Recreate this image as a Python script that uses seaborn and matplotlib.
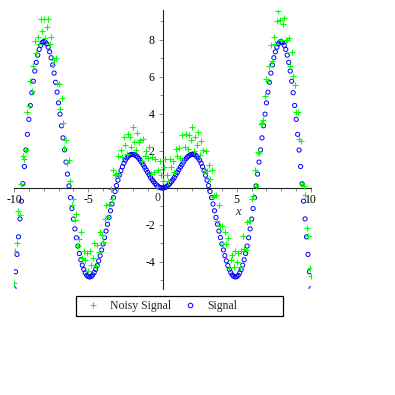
import matplotlib
matplotlib.use("Agg")
import matplotlib.pyplot as plt
from matplotlib.lines import Line2D
from matplotlib.patches import Rectangle
from matplotlib.ticker import FixedLocator, MultipleLocator, NullFormatter
import seaborn as sns
import pandas as pd

# ---------------- data ----------------
x_values = [
    -10.0, -9.9, -9.8, -9.7, -9.6, -9.5, -9.4, -9.3, -9.2, -9.1,
    -9.0, -8.9, -8.8, -8.7, -8.6, -8.5, -8.4, -8.3, -8.2, -8.1,
    -8.0, -7.9, -7.8, -7.7, -7.6, -7.5, -7.4, -7.3, -7.2, -7.1,
    -7.0, -6.9, -6.8, -6.7, -6.6, -6.5, -6.4, -6.3, -6.2, -6.1,
    -6.0, -5.9, -5.8, -5.7, -5.6, -5.5, -5.4, -5.3, -5.2, -5.1,
    -5.0, -4.9, -4.8, -4.7, -4.6, -4.5, -4.4, -4.3, -4.2, -4.1,
    -4.0, -3.9, -3.8, -3.7, -3.6, -3.5, -3.4, -3.3, -3.2, -3.1,
    -3.0, -2.9, -2.8, -2.7, -2.6, -2.5, -2.4, -2.3, -2.2, -2.1,
    -2.0, -1.9, -1.8, -1.7, -1.6, -1.5, -1.4, -1.3, -1.2, -1.1,
    -1.0, -0.9, -0.8, -0.7, -0.6, -0.5, -0.4, -0.3, -0.2, -0.1,
    0.0, 0.1, 0.2, 0.3, 0.4, 0.5, 0.6, 0.7, 0.8, 0.9,
    1.0, 1.1, 1.2, 1.3, 1.4, 1.5, 1.6, 1.7, 1.8, 1.9,
    2.0, 2.1, 2.2, 2.3, 2.4, 2.5, 2.6, 2.7, 2.8, 2.9,
    3.0, 3.1, 3.2, 3.3, 3.4, 3.5, 3.6, 3.7, 3.8, 3.9,
    4.0, 4.1, 4.2, 4.3, 4.4, 4.5, 4.6, 4.7, 4.8, 4.9,
    5.0, 5.1, 5.2, 5.3, 5.4, 5.5, 5.6, 5.7, 5.8, 5.9,
    6.0, 6.1, 6.2, 6.3, 6.4, 6.5, 6.6, 6.7, 6.8, 6.9,
    7.0, 7.1, 7.2, 7.3, 7.4, 7.5, 7.6, 7.7, 7.8, 7.9,
    8.0, 8.1, 8.2, 8.3, 8.4, 8.5, 8.6, 8.7, 8.8, 8.9,
    9.0, 9.1, 9.2, 9.3, 9.4, 9.5, 9.6, 9.7, 9.8, 9.9,
    10.0,
]

signal_values = [
    -5.44, -4.53, -3.59, -2.64, -1.67, -0.71, 0.23, 1.16, 2.05, 2.90,
    3.71, 4.46, 5.15, 5.77, 6.32, 6.79, 7.18, 7.49, 7.71, 7.86,
    7.91, 7.89, 7.79, 7.61, 7.36, 7.04, 6.65, 6.21, 5.71, 5.18,
    4.60, 3.99, 3.36, 2.71, 2.06, 1.40, 0.75, 0.11, -0.52, -1.11,
    -1.68, -2.21, -2.69, -3.14, -3.54, -3.88, -4.17, -4.41, -4.59, -4.72,
    -4.79, -4.81, -4.78, -4.70, -4.57, -4.40, -4.19, -3.94, -3.66, -3.35,
    -3.03, -2.68, -2.33, -1.96, -1.59, -1.23, -0.87, -0.52, -0.19, 0.13,
    0.42, 0.69, 0.94, 1.15, 1.34, 1.50, 1.62, 1.72, 1.78, 1.81,
    1.82, 1.80, 1.75, 1.69, 1.60, 1.50, 1.38, 1.25, 1.12, 0.98,
    0.84, 0.71, 0.57, 0.45, 0.34, 0.24, 0.16, 0.09, 0.04, 0.01,
    0.00, 0.01, 0.04, 0.09, 0.16, 0.24, 0.34, 0.45, 0.57, 0.71,
    0.84, 0.98, 1.12, 1.25, 1.38, 1.50, 1.60, 1.69, 1.75, 1.80,
    1.82, 1.81, 1.78, 1.72, 1.62, 1.50, 1.34, 1.15, 0.94, 0.69,
    0.42, 0.13, -0.19, -0.52, -0.87, -1.23, -1.59, -1.96, -2.33, -2.68,
    -3.03, -3.35, -3.66, -3.94, -4.19, -4.40, -4.57, -4.70, -4.78, -4.81,
    -4.79, -4.72, -4.59, -4.41, -4.17, -3.88, -3.54, -3.14, -2.69, -2.21,
    -1.68, -1.11, -0.52, 0.11, 0.75, 1.40, 2.06, 2.71, 3.36, 3.99,
    4.60, 5.18, 5.71, 6.21, 6.65, 7.04, 7.36, 7.61, 7.79, 7.89,
    7.91, 7.86, 7.71, 7.49, 7.18, 6.79, 6.32, 5.77, 5.15, 4.46,
    3.71, 2.90, 2.05, 1.16, 0.23, -0.71, -1.67, -2.64, -3.59, -4.53,
    -5.44,
]

noisy_values = [
    -5.14, -3.43, -2.99, -1.24, -1.47, 0.19, 1.73, 1.56, 2.05, 4.10,
    4.41, 5.76, 5.25, 6.57, 7.92, 7.29, 8.18, 7.79, 9.11, 8.46,
    9.11, 8.09, 8.69, 9.11, 7.76, 8.14, 6.65, 6.91, 7.01, 5.68,
    5.60, 4.29, 4.86, 3.51, 2.16, 2.60, 1.35, 1.51, 0.38, -0.91,
    -0.58, -1.71, -1.39, -3.14, -2.74, -2.38, -3.77, -3.41, -3.89, -3.52,
    -4.49, -3.41, -4.18, -3.80, -2.97, -4.20, -3.09, -3.44, -2.36, -2.55,
    -2.93, -1.68, -0.93, -1.56, -0.89, -0.03, -0.57, 0.98, 0.71, 0.73,
    1.72, 0.69, 2.04, 1.65, 2.74, 2.30, 1.82, 2.92, 2.78, 2.21,
    3.32, 2.50, 2.05, 2.99, 2.50, 2.60, 1.48, 2.65, 1.72, 1.98,
    1.64, 2.21, 0.77, 1.65, 0.84, 1.54, 0.06, 0.99, 1.44, 0.71,
    0.40, 1.11, 1.54, 0.69, 0.36, 1.54, 1.14, 1.45, 0.87, 2.11,
    1.74, 2.18, 1.62, 2.85, 1.48, 2.20, 2.90, 2.09, 2.85, 2.60,
    3.32, 2.01, 2.78, 2.32, 3.02, 1.80, 2.54, 2.05, 0.94, 1.99,
    0.92, 1.23, 0.51, 0.98, -0.47, -0.43, -0.39, -1.76, -0.93, -2.08,
    -2.03, -3.05, -2.36, -3.04, -2.69, -4.30, -3.87, -3.60, -4.28, -3.41,
    -3.99, -3.52, -4.29, -3.41, -2.57, -3.28, -3.34, -1.84, -1.79, -1.81,
    -0.58, -0.41, 0.98, 0.11, 1.95, 1.90, 3.46, 3.51, 3.66, 4.99,
    5.90, 5.78, 6.61, 7.71, 6.85, 8.14, 7.76, 9.01, 9.59, 9.09,
    8.01, 8.86, 9.21, 7.99, 7.98, 8.09, 6.62, 7.37, 6.05, 5.56,
    4.11, 4.10, 2.65, 2.56, 0.23, 0.09, -0.37, -2.14, -2.59, -4.33,
    -4.74,
]

x_tick_values = [-10, -5, 5, 10]
x_tick_labels = ["-10", "-5", "5", "10"]
y_tick_values = [-4, -2, 2, 4, 6, 8]
y_tick_labels = ["-4", "-2", "2", "4", "6", "8"]
series_names = ["Noisy Signal", "Signal"]

# ---------------- styling ----------------
sns.set_style("white")
plt.rcParams["font.family"] = ["Liberation Serif", "DejaVu Serif"]

GREEN = "#00ff00"
BLUE = "#0000ff"
TICK_GRAY = "#8c8c8c"
AXIS_COLOR = "#222222"
TICK_FS = 8.5

df = pd.DataFrame({"x": x_values, "signal": signal_values, "noisy": noisy_values})

W = H = 395
fig = plt.figure(figsize=(W / 100, H / 100), dpi=100)
fig.patch.set_facecolor("white")
ax = fig.add_axes([14 / W, 1 - 289 / H, 297 / W, 279 / H])
ax.set_facecolor("none")

sns.scatterplot(data=df, x="x", y="signal", ax=ax, marker="o", s=9,
                facecolors="none", edgecolor=BLUE, linewidth=0.7, zorder=3)
sns.scatterplot(data=df, x="x", y="noisy", ax=ax, marker="+", s=22,
                color=GREEN, linewidth=0.8, zorder=4)

ax.set_xlim(-10, 10)
ax.set_ylim(-5.46, 9.62)
ax.set_xlabel("")
ax.set_ylabel("")

# axes through origin
for side in ["top", "right"]:
    ax.spines[side].set_visible(False)
ax.spines["left"].set_position(("data", 0))
ax.spines["bottom"].set_position(("data", 0))
for side in ["left", "bottom"]:
    ax.spines[side].set_color(AXIS_COLOR)
    ax.spines[side].set_linewidth(0.8)
    ax.spines[side].set_zorder(2)

ax.xaxis.set_major_locator(FixedLocator(x_tick_values))
ax.set_xticklabels(x_tick_labels)
ax.yaxis.set_major_locator(FixedLocator(y_tick_values))
ax.set_yticklabels(y_tick_labels)
ax.xaxis.set_minor_locator(MultipleLocator(1))
ax.yaxis.set_minor_locator(MultipleLocator(1))
ax.xaxis.set_minor_formatter(NullFormatter())
ax.yaxis.set_minor_formatter(NullFormatter())

ax.tick_params(axis="both", which="major", direction="out", length=3,
               width=0.7, color=TICK_GRAY, labelsize=TICK_FS, labelcolor="black", pad=1.5)
ax.tick_params(axis="both", which="minor", direction="out", length=2,
               width=0.7, color=TICK_GRAY)
ax.tick_params(axis="x", bottom=True, which="both")
ax.tick_params(axis="y", left=True, which="both")
ax.tick_params(axis="y", which="major", pad=2.5)

# origin label and axis name
ax.text(-0.34, -0.52, "0", ha="center", va="center", fontsize=TICK_FS)
ax.text(5.05, -1.3, "x", ha="center", va="center", fontsize=9, style="italic")

# legend
handles = [
    Line2D([], [], linestyle="none", marker="+", color=GREEN, markersize=5,
           markeredgewidth=0.8),
    Line2D([], [], linestyle="none", marker="o", markerfacecolor="none",
           markeredgecolor=BLUE, markersize=3.3, markeredgewidth=0.7),
]
fig.legend(handles, series_names, loc="center left",
           bbox_to_anchor=(87 / W, 1 - 306 / H), ncol=2, frameon=False,
           fontsize=8.5, handlelength=1.0, handletextpad=0.95,
           columnspacing=1.1, borderpad=0, borderaxespad=0)
fig.patches.append(Rectangle((76 / W, 1 - 316 / H), 207 / W, 20 / H,
                             transform=fig.transFigure, fill=False,
                             edgecolor="black", linewidth=0.9))

fig.savefig("out.png", dpi=100, facecolor="white")
